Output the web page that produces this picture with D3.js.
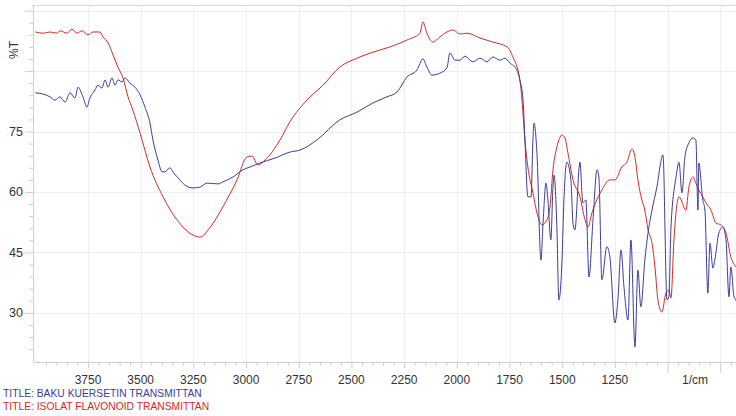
<!DOCTYPE html>
<html>
<head>
<meta charset="utf-8">
<script src="https://cdn.jsdelivr.net/npm/d3@7"></script>
<style>
  body { margin: 0; background: #fff; }
  svg { display: block; font-family: "Liberation Sans", Arial, sans-serif; }
</style>
</head>
<body>
<div id="chart"></div>
<script>
// wavenumber (1/cm) and %T
const blueWn = [4000, 3963, 3930, 3907, 3883, 3859, 3835, 3812, 3797, 3774, 3755, 3741, 3717, 3703, 3684, 3669, 3655, 3636, 3622, 3608, 3589, 3574, 3551, 3527, 3503, 3480, 3456, 3442, 3418, 3399, 3385, 3361, 3347, 3323, 3290, 3252, 3219, 3185, 3133, 3110, 3062, 3015, 2981, 2934, 2863, 2792, 2744, 2664, 2555, 2474, 2398, 2332, 2284, 2237, 2189, 2161, 2142, 2118, 2080, 2047, 2033, 2009, 1985, 1962, 1924, 1890, 1857, 1829, 1796, 1772, 1748, 1715, 1701, 1686, 1677, 1663, 1648, 1639, 1634, 1620, 1601, 1591, 1577, 1568, 1554, 1544, 1539, 1525, 1516, 1501, 1492, 1478, 1459, 1449, 1440, 1416, 1402, 1388, 1373, 1354, 1335, 1326, 1312, 1288, 1274, 1250, 1236, 1221, 1207, 1188, 1174, 1155, 1141, 1127, 1108, 1093, 1074, 1051, 1022, 1003, 994, 984, 960, 946, 932, 918, 899, 880, 866, 856, 852, 833, 823, 809, 799, 785, 776, 757, 738, 723, 709, 700, 685, 676, 660];
const blueT = [84.6, 84.3, 83.6, 82.8, 83.6, 82.3, 84.6, 83.3, 86.0, 83.6, 81.1, 83.3, 85.3, 86.5, 85.8, 87.8, 86.0, 88.3, 86.5, 87.8, 87.3, 88.3, 87.0, 86.0, 84.1, 81.1, 77.1, 72.9, 67.9, 65.0, 65.0, 66.0, 65.0, 63.5, 61.7, 61.0, 61.2, 62.2, 62.0, 62.5, 63.7, 65.5, 66.2, 67.2, 68.4, 69.9, 70.4, 72.9, 77.9, 79.8, 82.1, 83.6, 84.8, 88.5, 90.3, 93.0, 91.0, 89.0, 89.5, 90.8, 94.5, 92.7, 92.7, 93.7, 92.3, 93.2, 92.3, 93.5, 92.7, 93.2, 92.0, 90.3, 87.8, 82.8, 72.9, 58.8, 58.8, 72.9, 77.1, 69.7, 43.1, 52.3, 62.2, 58.0, 48.1, 61.2, 64.2, 50.6, 33.2, 43.1, 58.0, 67.4, 63.0, 52.3, 50.6, 67.4, 57.3, 58.0, 38.9, 53.1, 65.5, 63.7, 38.2, 46.4, 43.9, 27.5, 33.2, 45.6, 36.4, 28.2, 48.1, 21.5, 40.6, 31.5, 43.1, 49.8, 55.5, 61.2, 69.2, 33.2, 34.0, 51.3, 63.7, 67.4, 59.8, 68.7, 72.2, 73.4, 72.9, 55.5, 67.2, 58.0, 55.5, 34.9, 47.3, 41.1, 43.1, 49.8, 51.3, 48.1, 34.0, 41.4, 34.0, 33.2, 30.0];

const redWn = [4000, 3963, 3930, 3897, 3883, 3850, 3826, 3802, 3778, 3750, 3726, 3693, 3679, 3655, 3631, 3608, 3584, 3560, 3537, 3503, 3456, 3394, 3328, 3252, 3219, 3172, 3110, 3043, 2996, 2972, 2944, 2910, 2839, 2792, 2711, 2635, 2555, 2474, 2398, 2317, 2237, 2175, 2161, 2142, 2113, 2080, 2047, 2018, 1985, 1952, 1890, 1829, 1762, 1734, 1701, 1691, 1677, 1663, 1639, 1615, 1596, 1572, 1558, 1544, 1525, 1501, 1487, 1473, 1449, 1416, 1392, 1378, 1359, 1312, 1274, 1250, 1217, 1193, 1169, 1155, 1141, 1122, 1108, 1093, 1074, 1060, 1046, 1027, 1008, 994, 984, 970, 946, 913, 899, 880, 866, 852, 833, 818, 794, 771, 747, 723, 700, 676, 660];
const redT = [99.7, 99.4, 99.7, 99.4, 100.0, 99.4, 100.4, 99.4, 100.0, 99.0, 99.7, 99.7, 98.5, 97.0, 94.0, 91.0, 88.3, 83.6, 80.3, 74.6, 66.2, 58.8, 53.1, 49.3, 48.8, 51.1, 56.3, 63.0, 68.7, 68.9, 66.7, 67.9, 72.9, 77.4, 82.8, 86.5, 91.0, 93.2, 94.7, 96.0, 97.7, 99.4, 102.2, 99.4, 97.2, 98.5, 99.7, 100.2, 99.2, 99.4, 98.2, 97.2, 96.0, 93.5, 87.8, 82.8, 72.9, 66.2, 59.8, 53.8, 51.8, 53.1, 56.3, 65.5, 71.2, 74.1, 73.4, 69.7, 63.0, 58.8, 53.1, 51.3, 54.8, 60.5, 63.0, 63.0, 66.2, 67.4, 70.7, 68.7, 63.0, 58.0, 55.5, 50.6, 47.3, 41.4, 33.2, 30.2, 34.9, 35.7, 33.7, 48.1, 58.8, 55.5, 61.2, 63.7, 62.2, 60.5, 58.8, 57.3, 55.5, 52.3, 51.8, 49.8, 43.9, 41.4, 40.5];

const xTicks = [3750, 3500, 3250, 3000, 2750, 2500, 2250, 2000, 1750, 1500, 1250, 1000, 750];
const xLabels = ["3750", "3500", "3250", "3000", "2750", "2500", "2250", "2000", "1750", "1500", "1250", "", ""];
const yTicks = [30, 45, 60, 75, 90, 105];
const yLabels = ["30", "45", "60", "75", "", ""];
const titles = ["TITLE: BAKU KUERSETIN TRANSMITTAN", "TITLE: ISOLAT FLAVONOID TRANSMITTAN"];

const blueColor = "#3c3c9c";
const redColor = "#d42a2a";

const width = 736, height = 416;
const plotLeft = 34, plotTop = 5, plotBottom = 362;

const x = d3.scaleLinear().domain([4000, 500]).range([35.3, 773]);
const y = d3.scaleLinear().domain([17.8, 106.4]).range([plotBottom, plotTop]);

const svg = d3.select("#chart").append("svg")
  .attr("width", width).attr("height", height);

svg.append("defs").append("clipPath").attr("id", "plot")
  .append("rect").attr("x", plotLeft).attr("y", plotTop)
  .attr("width", width - plotLeft).attr("height", plotBottom - plotTop);

// grid
const grid = svg.append("g").attr("stroke", "#efefef").attr("stroke-width", 1);
grid.selectAll("line.v").data(xTicks).join("line").attr("class", "v")
  .attr("x1", (d) => Math.round(x(d)) + 0.5).attr("x2", (d) => Math.round(x(d)) + 0.5)
  .attr("y1", plotTop).attr("y2", plotBottom);
grid.selectAll("line.h").data(yTicks).join("line").attr("class", "h")
  .attr("y1", (d) => Math.round(y(d)) + 0.5).attr("y2", (d) => Math.round(y(d)) + 0.5)
  .attr("x1", plotLeft).attr("x2", width);

// frame
svg.append("line").attr("x1", plotLeft).attr("x2", width).attr("y1", plotTop + 0.5).attr("y2", plotTop + 0.5)
  .attr("stroke", "#d8d8d8");

// x axis
const xAxis = svg.append("g")
  .attr("transform", `translate(0,${plotBottom})`)
  .call(d3.axisBottom(x).tickValues(d3.range(3950, 600, -50)).tickSize(4).tickFormat(""));
xAxis.select(".domain").remove();
xAxis.append("line").attr("x1", plotLeft).attr("x2", width).attr("y1", 0.5).attr("y2", 0.5)
  .attr("stroke", "#cfcfcf");
xAxis.selectAll(".tick line").attr("stroke", "#cfcfcf");
xAxis.selectAll(".tick").filter((d) => d % 250 === 0).select("line").attr("y2", (d) => d <= 1000 ? 11 : 6);
xAxis.selectAll("text.lab").data(xTicks).join("text").attr("class", "lab")
  .attr("x", (d) => x(d)).attr("y", 22)
  .attr("text-anchor", "middle").attr("font-size", 12).attr("fill", "#333")
  .text((d, i) => xLabels[i]);
xAxis.append("text").attr("x", 695).attr("y", 22).attr("text-anchor", "middle")
  .attr("font-size", 12).attr("fill", "#333").text("1/cm");

// y axis
const yAxis = svg.append("g")
  .attr("transform", `translate(${plotLeft},0)`)
  .call(d3.axisLeft(y).tickValues(d3.range(21, 106, 3)).tickSize(5).tickFormat(""));
yAxis.select(".domain").remove();
yAxis.append("line").attr("x1", -0.5).attr("x2", -0.5).attr("y1", plotTop).attr("y2", plotBottom)
  .attr("stroke", "#cfcfcf");
yAxis.selectAll(".tick line").attr("stroke", "#cfcfcf");
yAxis.selectAll(".tick").filter((d) => d % 15 === 0).select("line").attr("x2", -9);
yAxis.selectAll("text.lab").data(yTicks).join("text").attr("class", "lab")
  .attr("x", -11).attr("y", (d) => y(d)).attr("dy", "0.36em")
  .attr("text-anchor", "end").attr("font-size", 12.5).attr("fill", "#333")
  .text((d, i) => yLabels[i]);
svg.append("text").attr("transform", "translate(18,50) rotate(-90)")
  .attr("text-anchor", "middle").attr("font-size", 12).attr("fill", "#333").text("%T");

// spectra
const line = d3.line()
  .x((d) => x(d[0]))
  .y((d) => y(d[1]))
  .curve(d3.curveMonotoneX);

const plot = svg.append("g").attr("clip-path", "url(#plot)").attr("fill", "none");
plot.append("path").datum(d3.zip(redWn, redT))
  .attr("stroke", redColor).attr("stroke-width", 1).attr("d", line);
plot.append("path").datum(d3.zip(blueWn, blueT))
  .attr("stroke", blueColor).attr("stroke-width", 1).attr("d", line);

// titles
svg.selectAll("text.title").data(titles).join("text").attr("class", "title")
  .attr("x", 3).attr("y", (d, i) => 397 + i * 13)
  .attr("font-size", 10.3).attr("fill", (d, i) => i === 0 ? blueColor : redColor)
  .text((d) => d);
</script>
</body>
</html>
